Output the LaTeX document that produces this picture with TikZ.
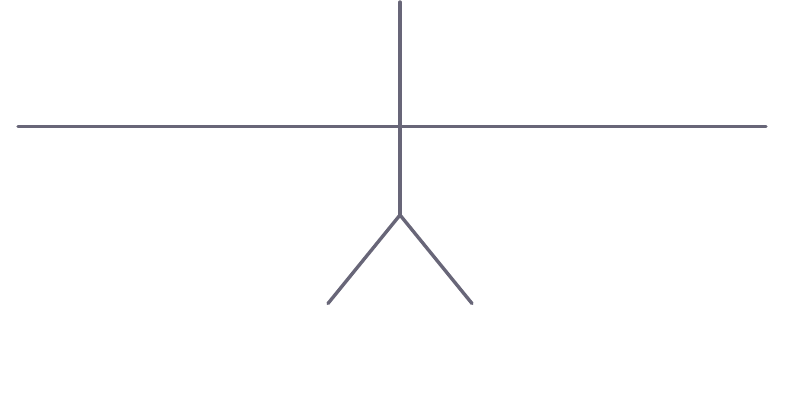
\documentclass[tikz,border=0pt]{standalone}
\definecolor{stick}{RGB}{104,102,120}
\begin{document}
\begin{tikzpicture}[x=1pt,y=-1pt,limb/.style={draw=stick,line width=3.4pt,line cap=round,line join=round}]
\useasboundingbox (0,0) rectangle (800,406);
\coordinate (top) at (400,2);
\coordinate (hip) at (400,215);
\coordinate (lhand) at (18,126.5);
\coordinate (rhand) at (766,126.5);
\coordinate (lfoot) at (328,303.5);
\coordinate (rfoot) at (472,303.5);
\draw[limb] (top) -- (hip);
\draw[limb] (lhand) -- (rhand);
\draw[limb] (lfoot) -- (hip) -- (rfoot);
\end{tikzpicture}
\end{document}
